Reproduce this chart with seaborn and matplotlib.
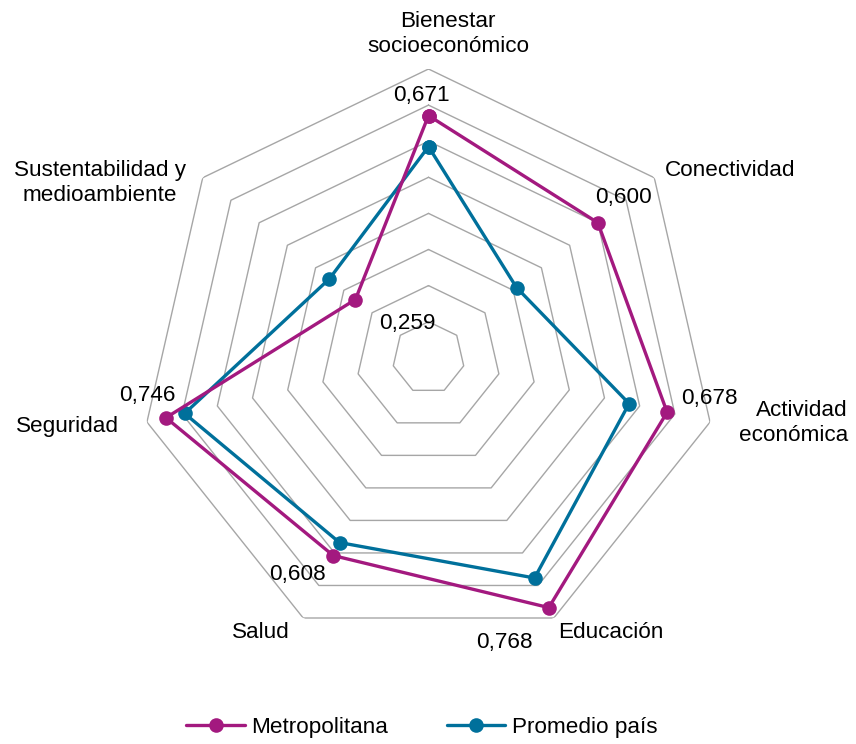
import numpy as np
import pandas as pd
import matplotlib
matplotlib.use("Agg")
import matplotlib.pyplot as plt
import seaborn as sns
from matplotlib.lines import Line2D

categories = ["Bienestar\nsocioeconómico", "Conectividad", "Actividad\neconómica",
              "Educación", "Salud", "Seguridad", "Sustentabilidad y\nmedioambiente"]
metropolitana = [0.671, 0.600, 0.678, 0.768, 0.608, 0.746, 0.259]
promedio_pais = [0.585, 0.312, 0.570, 0.677, 0.568, 0.693, 0.351]
series_names = ["Metropolitana", "Promedio país"]
value_labels = ["0,671", "0,600", "0,678", "0,768", "0,608", "0,746", "0,259"]
grid_levels = [0.1, 0.2, 0.3, 0.4, 0.5, 0.6, 0.7, 0.8]

C_MAG = "#A3197F"
C_BLUE = "#00709B"
GRID = "#A6A6A6"

sns.set_style("white")
plt.rcParams["font.family"] = ["Liberation Sans", "DejaVu Sans"]
plt.rcParams["text.color"] = "black"

W, H = 856, 744
fig = plt.figure(figsize=(W / 100, H / 100), dpi=100)
cx, cy, R = 428.5, 357.8, 288.8
ax = fig.add_axes([(cx - R) / W, (H - cy - R) / H, 2 * R / W, 2 * R / H], projection="polar")
ax.set_theta_offset(np.pi / 2)
ax.set_theta_direction(-1)
ax.set_ylim(0, 0.8)
ax.grid(False)
ax.spines["polar"].set_visible(False)
ax.set_xticks([])
ax.set_yticks([])
ax.patch.set_alpha(0)

n = len(categories)
theta = np.arange(n) * 2 * np.pi / n
theta_closed = np.append(theta, theta[0])

for lv in grid_levels:
    ax.plot(theta_closed, [lv] * (n + 1), color=GRID, lw=1.0, zorder=1)

rows = []
for name, vals in zip(series_names, [metropolitana, promedio_pais]):
    closed = list(vals) + [vals[0]]
    for i, (t, v) in enumerate(zip(theta_closed, closed)):
        rows.append({"serie": name, "theta": t, "valor": v, "orden": i})
df = pd.DataFrame(rows)

for name, col, z in [("Promedio país", C_BLUE, 3), ("Metropolitana", C_MAG, 4)]:
    sub = df[df["serie"] == name]
    sns.lineplot(data=sub, x="theta", y="valor", sort=False, estimator=None, ax=ax,
                 color=col, lw=2.4, marker="o", markersize=10.5, markeredgewidth=0,
                 legend=False, zorder=z)
ax.set_xlabel("")
ax.set_ylabel("")
ax.set_ylim(0, 0.8)
ax.set_xticks([])
ax.set_yticks([])

# value labels (Metropolitana)
offsets = [(-7, 20), (26, 25), (42, 14), (-44, -35), (-36, -19), (-19, 22), (52, -24)]
for t, v, lab, (dx, dy) in zip(theta, metropolitana, value_labels, offsets):
    ax.annotate(lab, xy=(t, v), xytext=(dx, dy), textcoords="offset pixels",
                ha="center", va="center", fontsize=16.2, color="black", zorder=6)

# category labels
cat_pos = [(448, 34, "center"), (730, 171, "center"), (848, 423, "right"),
           (611, 632, "center"), (261, 632, "center"), (67, 426, "center"),
           (100, 183, "center")]
for lab, (px, py, ha) in zip(categories, cat_pos):
    fig.text(px / W, 1 - py / H, lab, ha=ha, va="center", fontsize=16.2, color="black",
             linespacing=1.2, multialignment="center" if ha == "center" else "right")

handles = [Line2D([], [], color=C_MAG, lw=2.4, marker="o", markersize=10.5, markeredgewidth=0),
           Line2D([], [], color=C_BLUE, lw=2.4, marker="o", markersize=10.5, markeredgewidth=0)]
leg = fig.legend(handles, series_names, loc="center", bbox_to_anchor=(422 / W, 1 - 727 / H),
                 ncol=2, frameon=False, fontsize=16.2, handlelength=2.6, handletextpad=0.3,
                 columnspacing=2.6)
for t in leg.get_texts():
    t.set_color("black")

fig.savefig("out.png", dpi=100)
